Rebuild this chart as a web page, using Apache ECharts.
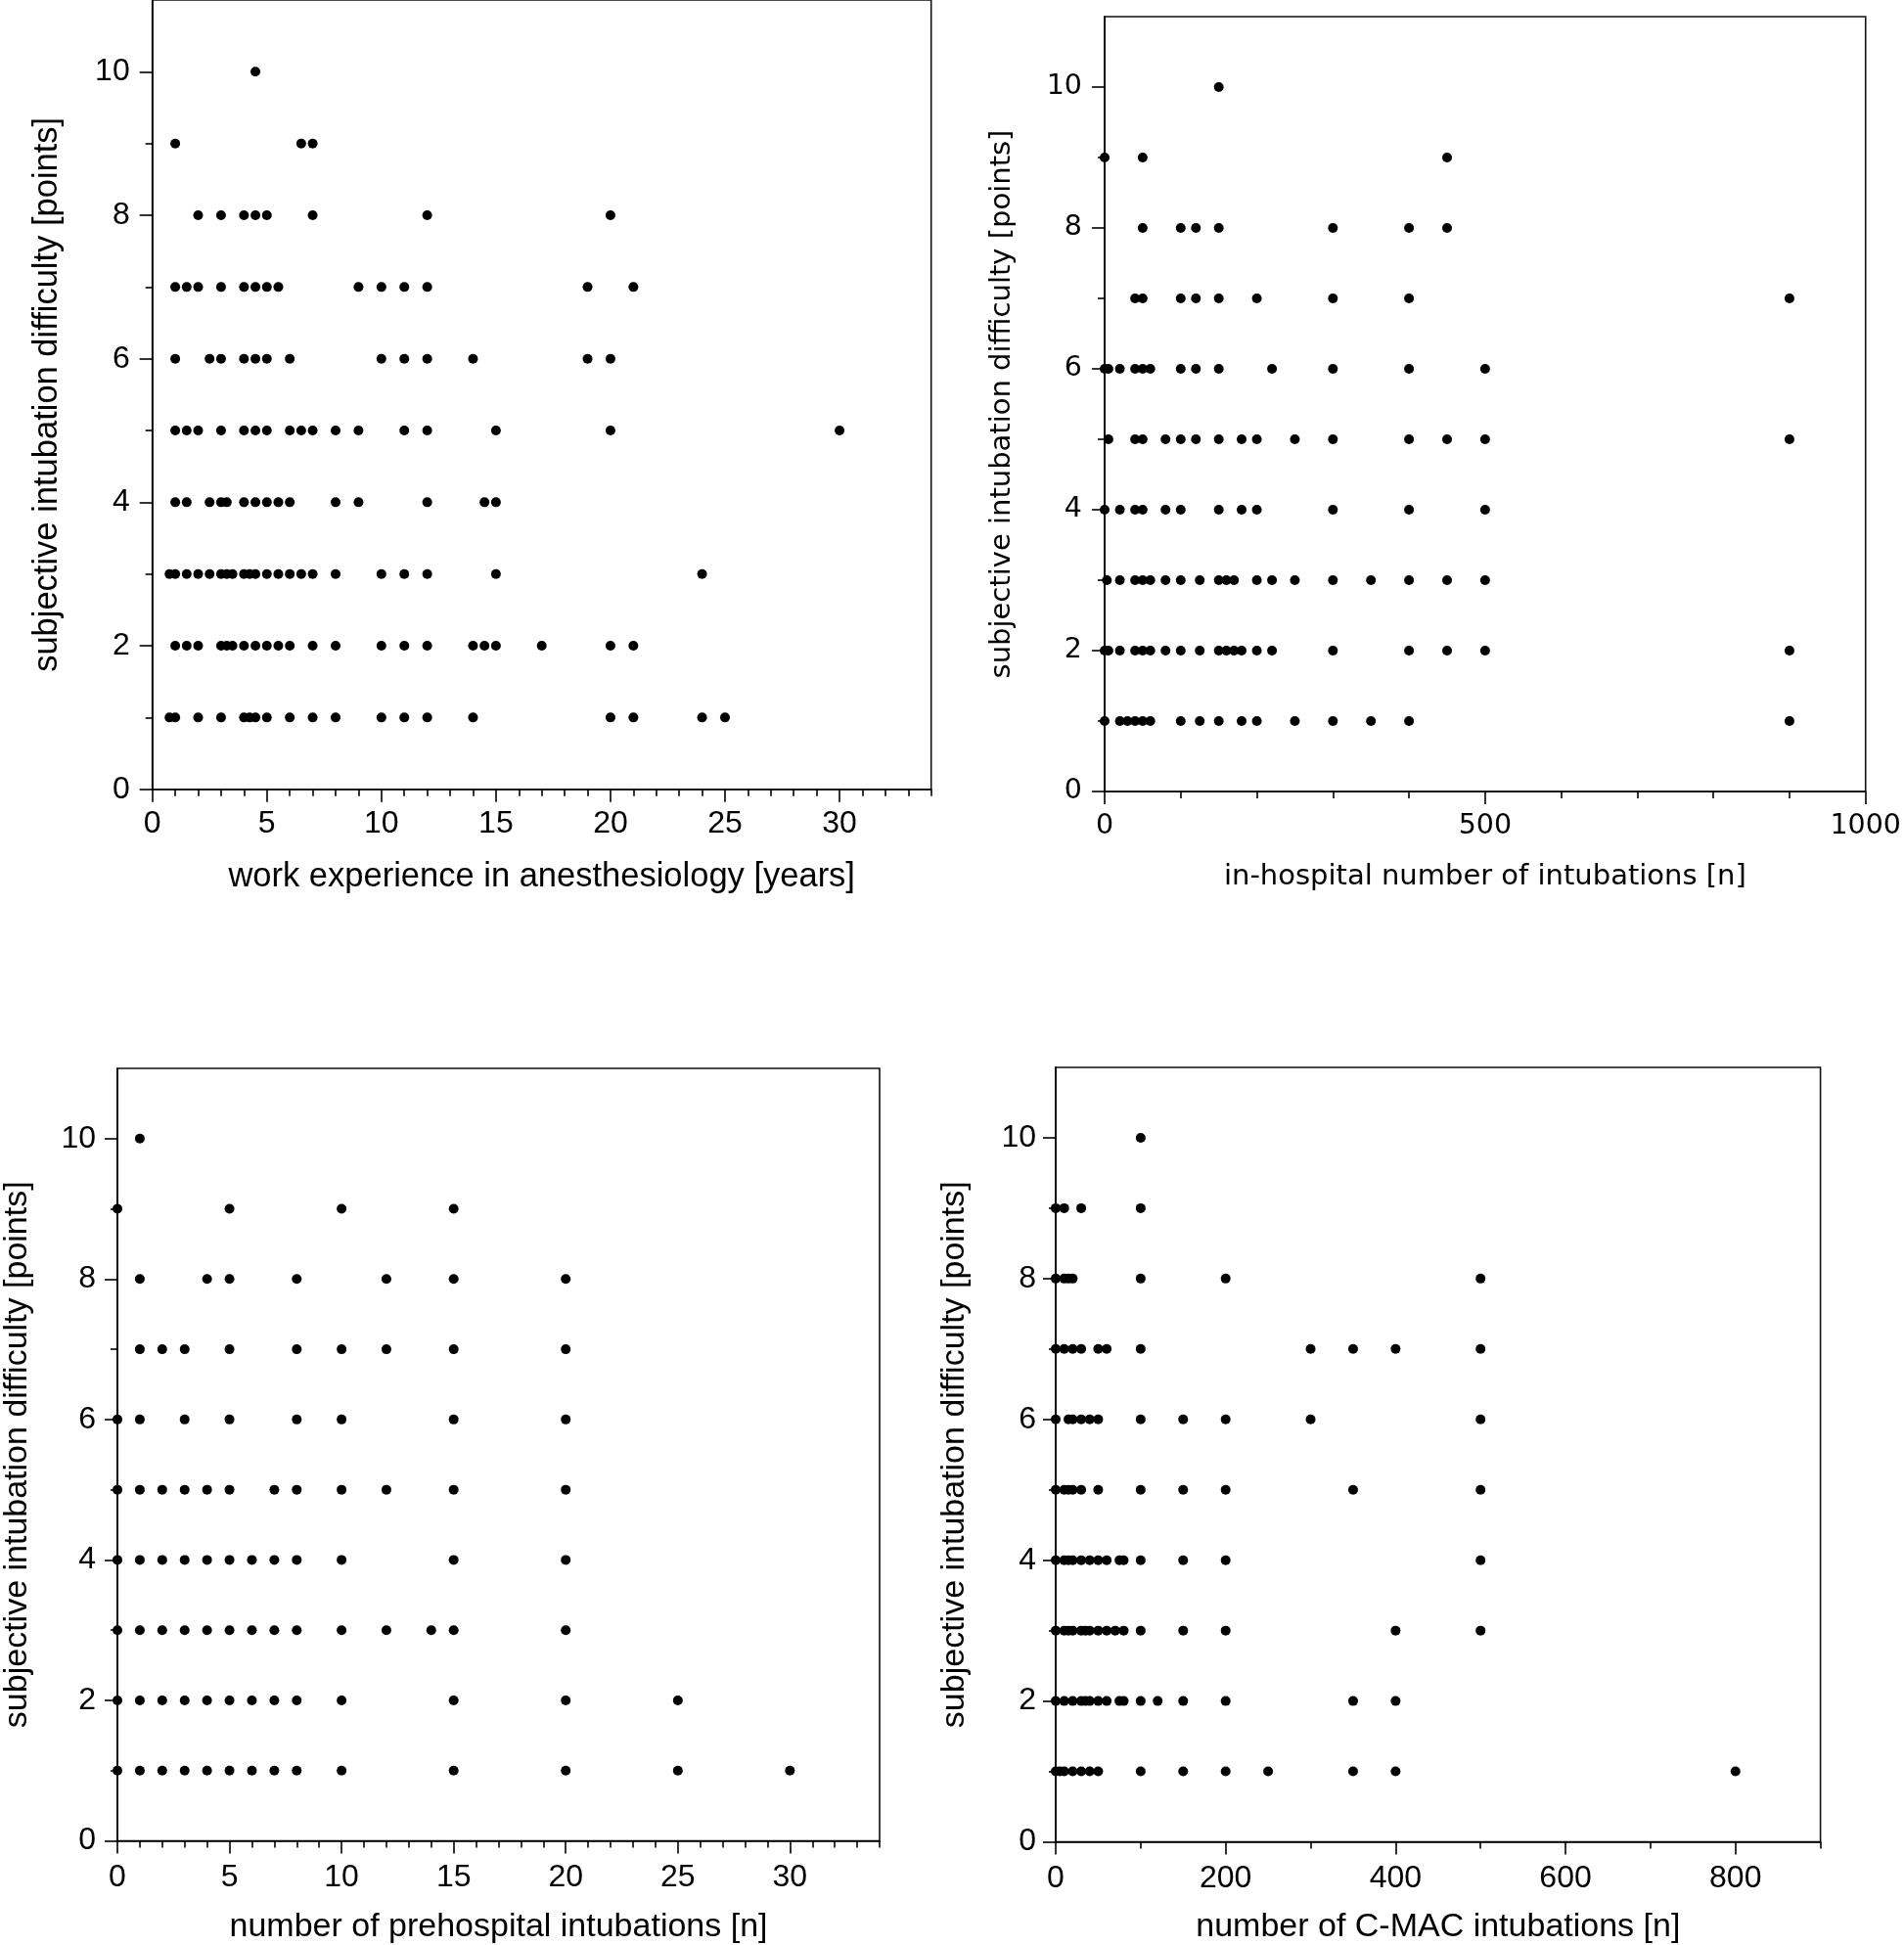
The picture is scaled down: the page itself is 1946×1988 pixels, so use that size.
<!DOCTYPE html>
<html><head><meta charset="utf-8">
<script src="https://cdn.jsdelivr.net/npm/echarts@6/dist/echarts.min.js"></script>
<style>html,body{margin:0;padding:0;background:#fff}#c{width:1946px;height:1988px}</style>
</head><body><div id="c"></div><script>
// difficulty levels 1..10 (row index + 1)
const levels = [1,2,3,4,5,6,7,8,9,10];
// x values per difficulty level
const workExperience = [
  [0.75,1,2,3,4,4.25,4.5,5,6,7,8,10,11,12,14,20,21,24,25],
  [1,1.5,2,3,3.25,3.5,4,4.5,5,5.5,6,7,8,10,11,12,14,14.5,15,17,20,21],
  [0.75,1,1.5,2,2.5,3,3.25,3.5,4,4.25,4.5,5,5.5,6,6.5,7,8,10,11,12,15,24],
  [1,1.5,2.5,3,3.25,4,4.5,5,5.5,6,8,9,12,14.5,15],
  [1,1.5,2,3,4,4.5,5,6,6.5,7,8,9,11,12,15,20,30],
  [1,2.5,3,4,4.5,5,6,10,11,12,14,19,20],
  [1,1.5,2,3,4,4.5,5,5.5,9,10,11,12,19,21],
  [2,3,4,4.5,5,7,12,20],
  [1,6.5,7],
  [4.5]
];
const inHospital = [
  [0,20,30,40,50,60,100,125,150,180,200,250,300,350,400,900],
  [0,5,20,40,50,60,80,100,125,150,160,170,180,200,220,300,400,450,500,900],
  [3,20,40,50,60,80,100,125,150,160,170,200,220,250,300,350,400,450,500],
  [0,20,40,50,80,100,150,180,200,300,400,500],
  [5,40,50,80,100,120,150,180,200,250,300,400,450,500,900],
  [0,5,20,40,50,60,100,120,150,220,300,400,500],
  [40,50,100,120,150,200,300,400,900],
  [50,100,120,150,300,400,450],
  [0,50,450],
  [150]
];
const prehospital = [
  [0,1,2,3,4,5,6,7,8,10,15,20,25,30],
  [0,1,2,3,4,5,6,7,8,10,15,20,25],
  [0,1,2,3,4,5,6,7,8,10,12,14,15,20],
  [0,1,2,3,4,5,6,7,8,10,15,20],
  [0,1,2,3,4,5,7,8,10,12,15,20],
  [0,1,3,5,8,10,15,20],
  [1,2,3,5,8,10,12,15,20],
  [1,4,5,8,12,15,20],
  [0,5,10,15],
  [1]
];
const cmac = [
  [0,5,10,20,30,40,50,100,150,200,250,350,400,800],
  [0,10,20,30,35,40,50,60,75,80,100,120,150,200,350,400],
  [0,10,15,20,30,35,40,50,60,70,80,100,150,200,400,500],
  [0,10,15,20,30,40,50,60,75,80,100,150,200,500],
  [0,10,15,20,30,50,100,150,200,350,500],
  [0,15,20,30,40,50,100,150,200,300,500],
  [0,10,20,30,50,60,100,300,350,400,500],
  [0,10,15,20,100,200,500],
  [0,10,30,100],
  [100]
];
// tick labels
const yMajorTicks = [0,2,4,6,8,10];
const yMinorTicks = [1,3,5,7,9];
const yTitle = 'subjective intubation difficulty [points]';

const panels = [
  {rows: workExperience, xName: 'work experience in anesthesiology [years]', xMax: 34, xMajor: 5, xMinor: 1,
   grid: {left: 155.7, top: 0, width: 796, height: 806.7}, font: 'Liberation Sans', tick: 32, title: 34.5,
   xm: 19, ym: 23, xg: 72, yg: 90},
  {rows: inHospital, xName: 'in-hospital number of intubations [n]', xMax: 1000, xMajor: 500, xMinor: 100,
   grid: {left: 1129, top: 17, width: 780.5, height: 792}, font: 'DejaVu Sans', tick: 28.5, title: 29,
   xm: 21, ym: 23, xg: 73, yg: 90},
  {rows: prehospital, xName: 'number of prehospital intubations [n]', xMax: 34, xMajor: 5, xMinor: 1,
   grid: {left: 120, top: 1092, width: 779, height: 790.5}, font: 'Liberation Sans', tick: 32, title: 34,
   xm: 22, ym: 22, xg: 71.5, yg: 85},
  {rows: cmac, xName: 'number of C-MAC intubations [n]', xMax: 900, xMajor: 200, xMinor: 100,
   grid: {left: 1079, top: 1091, width: 781.6, height: 792.5}, font: 'Liberation Sans', tick: 32, title: 34,
   xm: 22, ym: 20, xg: 70.5, yg: 86}
];

function range(step, max) { const a = []; for (let v = 0; v <= max + 1e-9; v += step) a.push(+v.toFixed(6)); return a; }

const option = {animation: false, backgroundColor: '#fff', grid: [], xAxis: [], yAxis: [], series: []};
const lineStyle = {color: '#000', width: 1.6};
panels.forEach((p, i) => {
  option.grid.push(Object.assign({show: true, borderColor: '#111', borderWidth: 1.6, backgroundColor: 'transparent', containLabel: false}, p.grid));
  const xMaj = range(p.xMajor, p.xMax);
  const xMin = range(p.xMinor, p.xMax).filter(v => xMaj.indexOf(v) < 0);
  const labelStyle = {fontFamily: p.font, fontSize: p.tick, color: '#000'};
  const nameStyle = {fontFamily: p.font, fontSize: p.title, color: '#000'};
  option.xAxis.push({
    type: 'value', gridIndex: i, min: 0, max: p.xMax, interval: p.xMajor, position: 'bottom',
    name: p.xName, nameLocation: 'middle', nameGap: p.xg, nameTextStyle: nameStyle,
    axisLine: {show: true, onZero: false, lineStyle},
    axisTick: {show: true, length: 13, lineStyle, customValues: xMaj},
    axisLabel: Object.assign({margin: p.xm, customValues: xMaj, formatter: v => String(v)}, labelStyle),
    splitLine: {show: false}
  });
  option.xAxis.push({
    type: 'value', gridIndex: i, min: 0, max: p.xMax, interval: p.xMinor, position: 'bottom',
    axisLine: {show: false, onZero: false}, axisTick: {show: true, length: 7, lineStyle, customValues: xMin},
    axisLabel: {show: false}, splitLine: {show: false}
  });
  option.yAxis.push({
    type: 'value', gridIndex: i, min: 0, max: 11, interval: 2, position: 'left',
    name: yTitle, nameLocation: 'middle', nameGap: p.yg, nameTextStyle: nameStyle,
    axisLine: {show: true, onZero: false, lineStyle},
    axisTick: {show: true, length: 13, lineStyle, customValues: yMajorTicks},
    axisLabel: Object.assign({margin: p.ym, customValues: yMajorTicks, formatter: v => String(v)}, labelStyle),
    splitLine: {show: false}
  });
  option.yAxis.push({
    type: 'value', gridIndex: i, min: 0, max: 11, interval: 1, position: 'left',
    axisLine: {show: false, onZero: false}, axisTick: {show: true, length: 7, lineStyle, customValues: yMinorTicks},
    axisLabel: {show: false}, splitLine: {show: false}
  });
  const data = [];
  p.rows.forEach((xs, r) => xs.forEach(x => data.push([x, levels[r]])));
  option.series.push({
    type: 'scatter', xAxisIndex: 2 * i, yAxisIndex: 2 * i, data, symbol: 'circle', symbolSize: 10,
    itemStyle: {color: '#000', opacity: 1}, clip: false, silent: true
  });
});
const chart = echarts.init(document.getElementById('c'), null, {renderer: 'canvas'});
chart.setOption(option);
</script></body></html>
